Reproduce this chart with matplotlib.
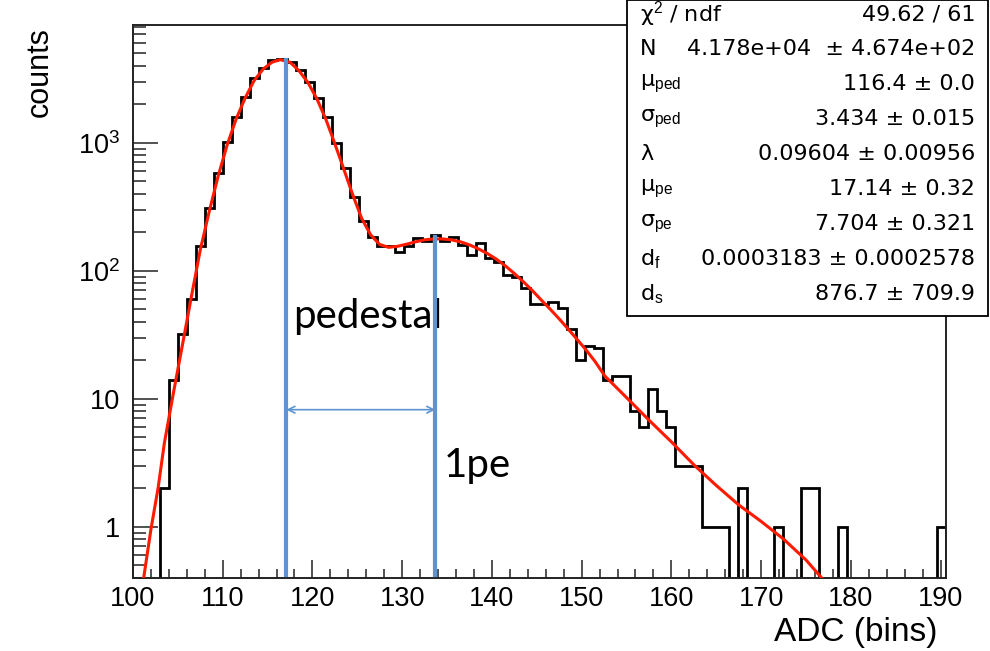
import numpy as np
import matplotlib
matplotlib.use('Agg')
import matplotlib.pyplot as plt
from matplotlib.patches import Rectangle
from matplotlib.ticker import FixedLocator, LogLocator, MultipleLocator, NullFormatter

plt.rcParams['font.family'] = ['Liberation Sans', 'DejaVu Sans']
plt.rcParams['mathtext.fontset'] = 'custom'
plt.rcParams['mathtext.rm'] = 'Liberation Sans'
plt.rcParams['mathtext.it'] = 'Liberation Sans:italic'
plt.rcParams['mathtext.bf'] = 'Liberation Sans:bold'

# histogram, 90 bins between 100 and 190.6
x_lo, x_hi = 100, 190.6
counts = [0, 0, 0, 2, 14, 32, 60, 157, 307, 576,
          1007, 1580, 2265, 3185, 3850, 4420, 4480, 4295, 3700, 3000,
          2222, 1600, 990, 630, 378, 245, 184, 157, 155, 141,
          157, 180, 172, 190, 169, 184, 158, 132, 164, 125,
          116, 92, 89, 73, 55, 55, 57, 51, 35, 20,
          26, 25, 14, 15, 15, 8, 6, 12, 8, 6,
          3, 3, 3, 1, 1, 1, 0, 2, 0, 0,
          0, 1, 0, 0, 2, 2, 0, 0, 1, 0,
          0, 0, 0, 0, 0, 0, 0, 0, 0, 1]

# fit curve
fit_x = [101.2, 102.0, 102.8, 103.5, 104.5, 105.5, 106.5, 107.5, 108.5, 109.5,
         110.5, 111.5, 112.5, 113.5, 114.5, 115.5, 116.4, 117.5, 118.5, 119.5,
         120.5, 121.5, 122.5, 123.5, 124.5, 125.5, 126.5, 127.5, 128.5, 129.5,
         130.5, 131.5, 132.5, 133.5, 134.5, 135.5, 136.5, 137.5, 138.5, 139.5,
         140.5, 141.5, 142.5, 143.5, 144.5, 145.5, 146.5, 147.5, 148.5, 149.5,
         150.5, 151.5, 152.6, 155.0, 157.5, 160.0, 162.6, 165.0, 167.5, 170.0,
         172.5, 175.0, 177.0]
fit_y = [0.4, 0.95, 2.0, 4.5, 11, 26, 62, 145, 290, 550,
         960, 1530, 2230, 3050, 3750, 4250, 4450, 4250, 3650, 2950,
         2200, 1520, 980, 620, 390, 255, 190, 160, 152, 155,
         161, 168, 174, 177, 177, 174, 168, 159, 148, 136,
         123, 109, 95, 82, 70, 59, 50, 42, 35, 29,
         24, 19.5, 15, 10.2, 6.8, 4.6, 3.0, 2.1, 1.48, 1.1,
         0.8, 0.55, 0.38]

# stats box
stat_names = ['χ$^{2}$ / ndf', 'N', 'μ$_{\\rm ped}$', 'σ$_{\\rm ped}$', 'λ',
              'μ$_{\\rm pe}$', 'σ$_{\\rm pe}$', 'd$_{\\rm f}$', 'd$_{\\rm s}$']
stat_values = ['49.62 / 61', '4.178e+04  ± 4.674e+02', '116.4 ± 0.0', '3.434 ± 0.015',
               '0.09604 ± 0.00956', '17.14 ± 0.32', '7.704 ± 0.321',
               '0.0003183 ± 0.0002578', '876.7 ± 709.9']

# annotation marks
ped_x, pe_x = 117.1, 133.7
ped_top, pe_top = 4450, 183
line_bottom = 0.42
arrow_y = 8.2

blue = '#5b94d1'

fig = plt.figure(figsize=(9.9, 6.51), dpi=100)
ax = fig.add_axes([0.1343, 0.1121, 0.8212, 0.8495])

edges = np.linspace(x_lo, x_hi, len(counts) + 1)
ax.stairs(np.clip(counts, 0.05, None), edges, color='black', lw=2.0, baseline=0.05, zorder=2)
ax.plot(fit_x, fit_y, color='#ff1a00', lw=2.2, zorder=3)

ax.plot([ped_x, ped_x], [line_bottom, ped_top], color=blue, lw=3, zorder=4)
ax.plot([pe_x, pe_x], [line_bottom, pe_top], color=blue, lw=3, zorder=4)
ax.annotate('', xy=(ped_x, arrow_y), xytext=(pe_x, arrow_y),
            arrowprops=dict(arrowstyle='<->', color=blue, lw=1.2,
                            shrinkA=0, shrinkB=0, mutation_scale=12), zorder=4)
ax.text(117.8, 44, 'pedestal', fontsize=29, family='Lato', va='center', ha='left')
ax.text(134.6, 3.0, '1pe', fontsize=29, family='Lato', va='center', ha='left')

ax.set_yscale('log')
ax.set_xlim(x_lo, x_hi)
ax.set_ylim(0.397, 8300)

ax.xaxis.set_major_locator(MultipleLocator(10))
ax.xaxis.set_minor_locator(MultipleLocator(2))
ax.yaxis.set_major_locator(FixedLocator([1, 10, 100, 1000]))
ax.set_yticklabels(['1', '10', '$10^{2}$', '$10^{3}$'])
ax.yaxis.set_minor_locator(LogLocator(base=10, subs=np.arange(2, 10), numticks=20))
ax.yaxis.set_minor_formatter(NullFormatter())

ax.tick_params(which='both', direction='in', top=False, right=False, width=1.1, color='#222222')
ax.tick_params(axis='y', which='major', length=18, pad=9, labelsize=19.5)
ax.tick_params(axis='y', which='minor', length=9)
ax.tick_params(axis='x', which='major', length=12.7, pad=6, labelsize=19.5)
ax.tick_params(axis='x', which='minor', length=6.7)
for s in ax.spines.values():
    s.set_linewidth(1.4)
    s.set_color('#222222')

fig.text(938 / 990, 1 - 632 / 651, 'ADC (bins)', fontsize=24, ha='right', va='center')
fig.text(40 / 990, 1 - 27 / 651, 'counts', fontsize=22, rotation=90, ha='center', va='top')

# stats box drawn over the frame
box = Rectangle((627 / 990, 1 - 316 / 651), (988 - 627) / 990, 316 / 651,
                transform=fig.transFigure, facecolor='white', edgecolor='black',
                lw=1.3, zorder=5)
fig.patches.append(box)
for i, (name, val) in enumerate(zip(stat_names, stat_values)):
    yy = 1 - (14 + 35 * i) / 651
    fig.text(640 / 990, yy, name, fontsize=16, family='DejaVu Sans', ha='left', va='center', zorder=6)
    fig.text(975 / 990, yy, val, fontsize=16, family='DejaVu Sans', ha='right', va='center', zorder=6)

fig.savefig('out.png', dpi=100)
